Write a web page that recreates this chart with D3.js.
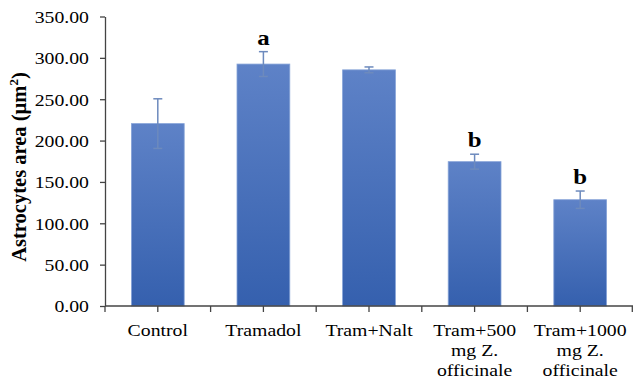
<!DOCTYPE html>
<html>
<head>
<meta charset="utf-8">
<script src="https://cdn.jsdelivr.net/npm/d3@7"></script>
<style>
  html, body { margin: 0; padding: 0; background: #fff; }
  svg { display: block; }
  text { font-family: "Liberation Serif", "Times New Roman", serif; fill: #000; }
</style>
</head>
<body>
<svg id="chart" width="633" height="385"></svg>
<script>
// Astrocytes area per treatment group (mean ± error)
const categories = ["Control", "Tramadol", "Tram+Nalt", "Tram+500 mg Z. officinale", "Tram+1000 mg Z. officinale"];
const categoryLines = [["Control"], ["Tramadol"], ["Tram+Nalt"], ["Tram+500", "mg Z.", "officinale"], ["Tram+1000", "mg Z.", "officinale"]];
const means = [220.5, 292.5, 285.5, 174.5, 128.5];
const errors = [30.0, 15.0, 3.5, 9.0, 10.5];
const letters = ["", "a", "", "b", "b"];
const yTicks = [0, 50, 100, 150, 200, 250, 300, 350];
const yTitle = "Astrocytes area (µm";

const svg = d3.select("#chart");
const sx = 1.13; // horizontal glyph stretch

const x = d3.scaleBand().domain(categories).range([105, 633]).paddingInner(0.5).paddingOuter(0.25);
const y = d3.scaleLinear().domain([0, 350]).range([306, 16.5]);
const step = x.step();

// bar gradient
const defs = svg.append("defs");
const grad = defs.append("linearGradient").attr("id", "barGrad")
  .attr("x1", 0).attr("y1", 0).attr("x2", 0).attr("y2", 1);
grad.append("stop").attr("offset", "0%").attr("stop-color", "#5e82c7");
grad.append("stop").attr("offset", "100%").attr("stop-color", "#3560ae");

// bars
svg.append("g").selectAll("rect").data(categories).join("rect")
  .attr("x", d => x(d))
  .attr("y", (d, i) => y(means[i]))
  .attr("width", x.bandwidth())
  .attr("height", (d, i) => y(0) - y(means[i]))
  .attr("fill", "url(#barGrad)")
  .attr("stroke", "#86a3d8")
  .attr("stroke-width", 0.8);

// error bars
const eb = svg.append("g").attr("stroke", "#6d8abd").attr("stroke-width", 1.5);
categories.forEach((c, i) => {
  const cx = x(c) + x.bandwidth() / 2;
  const hi = y(means[i] + errors[i]), lo = y(means[i] - errors[i]);
  eb.append("line").attr("x1", cx).attr("x2", cx).attr("y1", hi).attr("y2", lo);
  eb.append("line").attr("x1", cx - 4.5).attr("x2", cx + 4.5).attr("y1", hi).attr("y2", hi);
  eb.append("line").attr("x1", cx - 4.5).attr("x2", cx + 4.5).attr("y1", lo).attr("y2", lo);
});

// significance letters
categories.forEach((c, i) => {
  if (!letters[i]) return;
  const cx = x(c) + x.bandwidth() / 2;
  svg.append("text")
    .attr("transform", `translate(${cx},${y(means[i] + errors[i]) - 7}) scale(${sx},1)`)
    .attr("text-anchor", "middle")
    .attr("font-size", 22).attr("font-weight", "bold")
    .text(letters[i]);
});

// y axis
const yAxis = svg.append("g").attr("transform", "translate(105,0)")
  .call(d3.axisLeft(y).tickValues(yTicks).tickSize(5).tickSizeOuter(0).tickFormat(() => ""));
yAxis.select(".domain").attr("stroke", "#444").attr("stroke-width", 1.3);
yAxis.selectAll(".tick line").attr("stroke", "#444").attr("stroke-width", 1.3);
yAxis.selectAll(".tick").append("text")
  .attr("transform", `translate(-16,0) scale(${sx},1)`)
  .attr("dy", "0.34em")
  .attr("text-anchor", "end")
  .attr("font-size", 17.5)
  .attr("fill", "#111")
  .text(d => d3.format(".2f")(d));

// x axis: line plus ticks at band edges and centres
const xg = svg.append("g").attr("stroke", "#444").attr("stroke-width", 1.3);
xg.append("line").attr("x1", 105).attr("x2", 633).attr("y1", y(0)).attr("y2", y(0));
const tickXs = [];
categories.forEach(c => {
  const left = x(c) - step * x.paddingInner() / 2;
  tickXs.push(left, x(c) + x.bandwidth() / 2);
});
tickXs.push(633 - 0.7);
xg.selectAll(".xt").data(tickXs).join("line")
  .attr("x1", d => d).attr("x2", d => d)
  .attr("y1", y(0)).attr("y2", y(0) + 6);

// category labels
categories.forEach((c, i) => {
  const cx = x(c) + x.bandwidth() / 2;
  categoryLines[i].forEach((ln, j) => {
    svg.append("text")
      .attr("transform", `translate(${cx},${336 + j * 20}) scale(${sx},1)`)
      .attr("text-anchor", "middle")
      .attr("font-size", 17.5)
      .attr("fill", "#111")
      .text(ln);
  });
});

// y axis title
const t = svg.append("text")
  .attr("transform", "translate(26,167) rotate(-90)")
  .attr("text-anchor", "middle")
  .attr("font-size", 20.5).attr("font-weight", "bold");
t.append("tspan").text(yTitle);
t.append("tspan").attr("font-size", 13).attr("dy", "-0.6em").text("2");
t.append("tspan").attr("dy", "0.4em").text(")");
</script>
</body>
</html>
